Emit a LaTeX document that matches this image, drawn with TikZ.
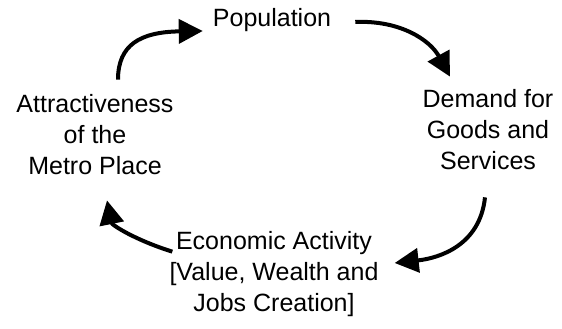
\documentclass[tikz,border=0pt]{standalone}
\usepackage{fontspec}
\setmainfont{Liberation Sans}
\usetikzlibrary{arrows.meta}
\begin{document}
\begin{tikzpicture}[
    x=1pt, y=-1pt,
    stage/.style={align=center, inner sep=0pt, font=\fontsize{25}{31}\selectfont},
    cyclearrow/.style={-{Triangle[length=24pt, width=24pt]}, line width=4pt}
]
\useasboundingbox (0,0) rectangle (562,329);

% Stages of the cycle
\node (pop) [stage] at (272,20.5) {Population};
\node (demand) [stage] at (488,130) {Demand for\\Goods and\\Services};
\node (econ) [stage] at (274,274.5) {Economic Activity\\{}[Value, Wealth and\\Jobs Creation]};
\node (attr) [stage] at (95,135) {Attractiveness\\of the\\Metro Place};

% Arrows round the cycle
\draw [cyclearrow] ([xshift=23pt,yshift=15pt]attr.north) .. controls (118,45) and (140,32) .. ([xshift=-10pt,yshift=-10.5pt]pop.west);
\draw [cyclearrow] ([xshift=24pt,yshift=-1.5pt]pop.east) .. controls (400,20) and (430,40) .. ([xshift=-38pt,yshift=13pt]demand.north);
\draw [cyclearrow] ([xshift=-3pt,yshift=-27pt]demand.south) .. controls (480,245) and (440,258) .. ([xshift=16pt,yshift=11.5pt]econ.east);
\draw [cyclearrow] ([xshift=3pt,yshift=-20pt]econ.north west) .. controls (135,240) and (112,225) .. ([xshift=12pt,yshift=-25pt]attr.south);
\end{tikzpicture}
\end{document}
